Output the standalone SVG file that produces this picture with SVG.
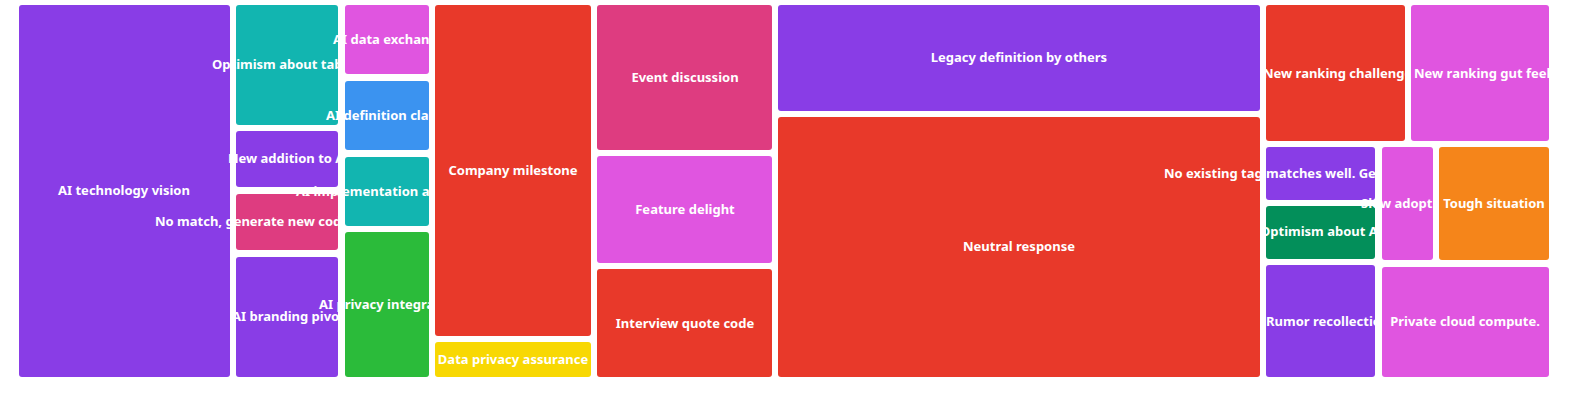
<svg xmlns="http://www.w3.org/2000/svg" width="1575" height="400" viewBox="0 0 1575 400">
<style>
rect.n{rx:3;ry:3}
.pu{fill:#893de6}.te{fill:#12b5b0}.pk{fill:#de3c80}.mg{fill:#e055e0}.bl{fill:#3b93f0}.gr{fill:#2bbb3a}.rd{fill:#e8392a}.ye{fill:#f8d803}.dg{fill:#038f5a}.or{fill:#f5851a}
text{font-family:"Noto Sans","Open Sans","Liberation Sans",sans-serif;font-weight:bold;font-size:13px;fill:#fff;dominant-baseline:central}
.m{text-anchor:middle}
</style>
<defs>
<clipPath id="c338"><rect x="0" y="0" width="338" height="400"/></clipPath>
<clipPath id="c429"><rect x="0" y="0" width="429" height="400"/></clipPath>
<clipPath id="c1405"><rect x="0" y="0" width="1405" height="400"/></clipPath>
<clipPath id="c1549"><rect x="0" y="0" width="1549" height="400"/></clipPath>
<clipPath id="c1375"><rect x="0" y="0" width="1375" height="400"/></clipPath>
<clipPath id="c1433"><rect x="0" y="0" width="1433" height="400"/></clipPath>
</defs>
<rect width="1575" height="400" fill="#fff"/>
<g id="nodes">
<g id="n1"><rect class="n pu" x="19" y="5" width="211" height="372"/></g>
<g id="n2"><rect class="n te" x="236" y="5" width="102" height="120"/></g>
<g id="n3"><rect class="n pu" x="236" y="131" width="102" height="56"/></g>
<g id="n4"><rect class="n pk" x="236" y="194" width="102" height="56"/></g>
<g id="n5"><rect class="n pu" x="236" y="257" width="102" height="120"/></g>
<g id="n6"><rect class="n mg" x="345" y="5" width="84" height="69"/></g>
<g id="n7"><rect class="n bl" x="345" y="81" width="84" height="69"/></g>
<g id="n8"><rect class="n te" x="345" y="157" width="84" height="69"/></g>
<g id="n9"><rect class="n gr" x="345" y="232" width="84" height="145"/></g>
<g id="n10"><rect class="n rd" x="435" y="5" width="156" height="331"/></g>
<g id="n11"><rect class="n ye" x="435" y="342" width="156" height="35"/></g>
<g id="n12"><rect class="n pk" x="597" y="5" width="175" height="145"/></g>
<g id="n13"><rect class="n mg" x="597" y="156" width="175" height="107"/></g>
<g id="n14"><rect class="n rd" x="597" y="269" width="175" height="108"/></g>
<g id="n15"><rect class="n pu" x="778" y="5" width="482" height="106"/></g>
<g id="n16"><rect class="n rd" x="778" y="117" width="482" height="260"/></g>
<g id="n17"><rect class="n rd" x="1266" y="5" width="139" height="136"/></g>
<g id="n18"><rect class="n mg" x="1411" y="5" width="138" height="136"/></g>
<g id="n19"><rect class="n pu" x="1266" y="147" width="109" height="53"/></g>
<g id="n20"><rect class="n dg" x="1266" y="206" width="109" height="53"/></g>
<g id="n21"><rect class="n mg" x="1382" y="147" width="51" height="113"/></g>
<g id="n22"><rect class="n or" x="1439" y="147" width="110" height="113"/></g>
<g id="n23"><rect class="n pu" x="1266" y="265" width="109" height="112"/></g>
<g id="n24"><rect class="n mg" x="1382" y="267" width="167" height="110"/></g>
</g>
<g id="labels">
<text class="m" x="124" y="190">AI technology vision</text>
<text x="212" y="64" clip-path="url(#c338)">Optimism about tablets</text>
<text x="228" y="158" clip-path="url(#c338)">New addition to AI</text>
<text x="155" y="221" clip-path="url(#c338)">No match, generate new code</text>
<text x="232" y="316" clip-path="url(#c338)">AI branding pivot</text>
<text x="333" y="39" clip-path="url(#c429)">AI data exchange</text>
<text x="326" y="115" clip-path="url(#c429)">AI definition clarity</text>
<text x="296" y="191" clip-path="url(#c429)">AI implementation approach</text>
<text x="319" y="304" clip-path="url(#c429)">AI privacy integration</text>
<text class="m" x="513" y="170">Company milestone</text>
<text class="m" x="513" y="359">Data privacy assurance</text>
<text class="m" x="685" y="77">Event discussion</text>
<text class="m" x="685" y="209">Feature delight</text>
<text class="m" x="685" y="323">Interview quote code</text>
<text class="m" x="1019" y="57">Legacy definition by others</text>
<text class="m" x="1019" y="246">Neutral response</text>
<text x="1263" y="73" clip-path="url(#c1405)">New ranking challenge</text>
<text x="1414" y="73" clip-path="url(#c1549)">New ranking gut feel</text>
<text x="1164" y="173" clip-path="url(#c1375)">No existing tag matches well. Generate new code</text>
<text x="1260" y="231" clip-path="url(#c1375)">Optimism about AI</text>
<text x="1361" y="203" clip-path="url(#c1433)">Slow adoption</text>
<text class="m" x="1494" y="203">Tough situation</text>
<text x="1266" y="321" clip-path="url(#c1375)">Rumor recollection</text>
<text class="m" x="1465" y="321">Private cloud compute.</text>
</g>
</svg>
